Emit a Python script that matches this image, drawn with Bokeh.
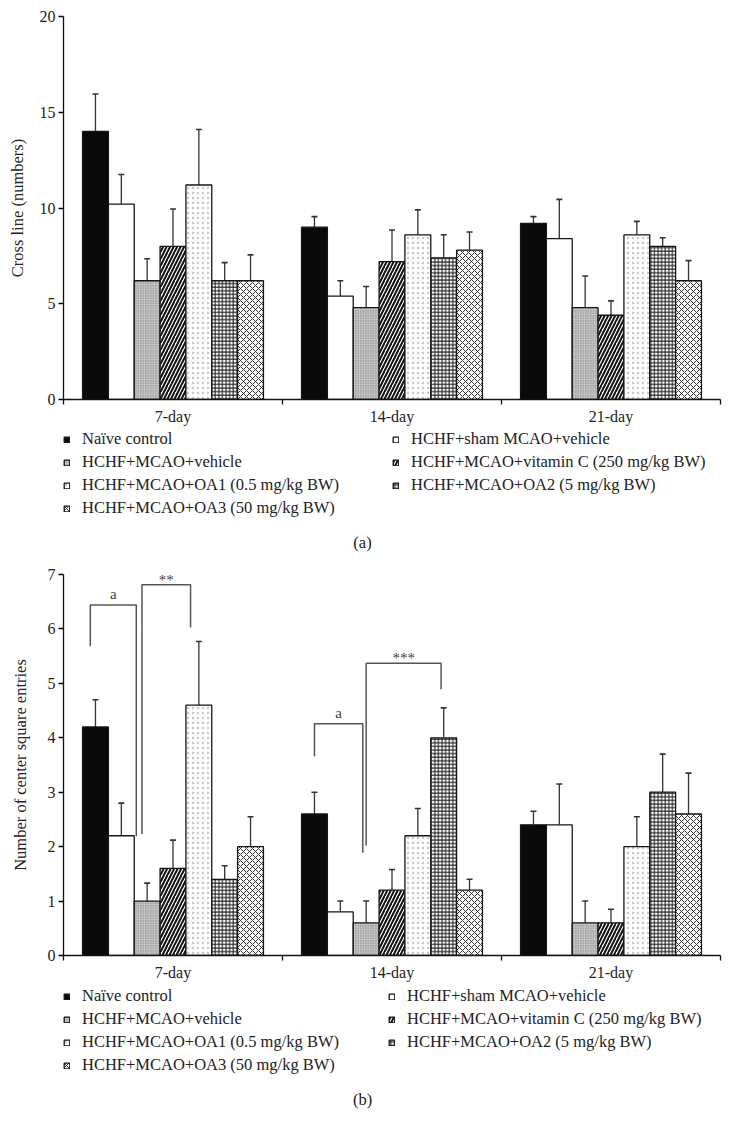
import numpy as np
from bokeh.plotting import figure
from bokeh.models import (Range1d, FixedTicker, ColumnDataSource, Legend, LegendItem,
                          Whisker, TeeHead, Label, LabelSet)
from bokeh.layouts import column
from bokeh.embed import file_html
from bokeh.resources import INLINE

# ---------------- data ----------------
days = ["7-day", "14-day", "21-day"]
groups = ["Naïve control",
          "HCHF+sham MCAO+vehicle",
          "HCHF+MCAO+vehicle",
          "HCHF+MCAO+vitamin C (250 mg/kg BW)",
          "HCHF+MCAO+OA1 (0.5 mg/kg BW)",
          "HCHF+MCAO+OA2 (5 mg/kg BW)",
          "HCHF+MCAO+OA3 (50 mg/kg BW)"]

# Panel (a): Cross line (numbers); one list per day, groups in the order above
cross_7 = [14.0, 10.2, 6.2, 8.0, 11.2, 6.2, 6.2]
cross_7_sem = [1.95, 1.55, 1.15, 1.95, 2.9, 0.95, 1.35]
cross_14 = [9.0, 5.4, 4.8, 7.2, 8.6, 7.4, 7.8]
cross_14_sem = [0.55, 0.8, 1.1, 1.65, 1.3, 1.2, 0.95]
cross_21 = [9.2, 8.4, 4.8, 4.4, 8.6, 8.0, 6.2]
cross_21_sem = [0.35, 2.05, 1.65, 0.75, 0.7, 0.45, 1.05]

# Panel (b): Number of center square entries
center_7 = [4.2, 2.2, 1.0, 1.6, 4.6, 1.4, 2.0]
center_7_sem = [0.5, 0.6, 0.33, 0.52, 1.17, 0.25, 0.55]
center_14 = [2.6, 0.8, 0.6, 1.2, 2.2, 4.0, 1.2]
center_14_sem = [0.4, 0.2, 0.4, 0.38, 0.5, 0.55, 0.2]
center_21 = [2.4, 2.4, 0.6, 0.6, 2.0, 3.0, 2.6]
center_21_sem = [0.25, 0.75, 0.4, 0.25, 0.55, 0.7, 0.75]

cross_ticks = [0, 5, 10, 15, 20]
center_ticks = [0, 1, 2, 3, 4, 5, 6, 7]

# significance brackets of panel (b): day index, bar slots of the legs, heights, label
bracket_day = [0, 0, 1, 1]
bracket_left_slot = [-0.2, 1.8, 0.0, 2.0]
bracket_right_slot = [1.58, 3.68, 1.87, 4.9]
bracket_left_y = [5.68, 2.23, 3.66, 2.02]
bracket_top_y = [6.44, 6.81, 4.26, 5.37]
bracket_right_y = [2.19, 6.03, 1.89, 4.89]
bracket_label = ["a", "**", "a", "***"]

# ---------------- styles ----------------
FONT = "Liberation Serif"
BAR_W = 0.118
label_gap = [6, 0, 6, 0]          # px between bracket line and label baseline
styles = [
    dict(fill_color="#0a0a0a"),
    dict(fill_color="white"),
    dict(fill_color="#a6a6a6", hatch_pattern="cross", hatch_scale=2.5,
         hatch_color="#d6d6d6", hatch_weight=0.6),
    dict(fill_color="white", hatch_pattern="right_diagonal_line", hatch_scale=7,
         hatch_color="#111111", hatch_weight=2.0),
    dict(fill_color="white", hatch_pattern="dot", hatch_scale=5,
         hatch_color="#777777", hatch_weight=0.8, hatch_alpha=0.4),
    dict(fill_color="white", hatch_pattern="cross", hatch_scale=3.6,
         hatch_color="#1a1a1a", hatch_weight=1.0),
    dict(fill_color="white", hatch_pattern="diagonal_cross", hatch_scale=6,
         hatch_color="#333333", hatch_weight=1.0),
]
BAR_LINE = dict(line_color="#151515", line_width=1.3)
FRAME_L, FRAME_W = 63, 657


def make_panel(means, sems, ylabel, ymax, ticks, frame_h, b_top, label_standoff):
    p = figure(frame_width=FRAME_W, frame_height=frame_h,
               x_range=Range1d(-0.5, 2.5), y_range=Range1d(0, ymax),
               output_backend="svg", toolbar_location=None,
               min_border_left=FRAME_L, min_border_right=2,
               min_border_top=b_top, min_border_bottom=30)
    p.outline_line_color = None
    p.xgrid.visible = False
    p.ygrid.visible = False

    for gi, name in enumerate(groups):
        xs = [d + (gi - 3) * BAR_W for d in range(len(days))]
        tops = [means[d][gi] for d in range(len(days))]
        ups = [means[d][gi] + sems[d][gi] for d in range(len(days))]
        src = ColumnDataSource(dict(x=xs, top=tops, up=ups))
        p.vbar(x="x", top="top", bottom=0, width=BAR_W, source=src,
               **BAR_LINE, **styles[gi])
        w = Whisker(source=src, base="x", lower="top", upper="up", dimension="height",
                    line_color="#333333", line_width=1.3, lower_head=None,
                    upper_head=TeeHead(size=6, line_color="#333333", line_width=1.6))
        p.add_layout(w)

    ya = p.yaxis[0]
    ya.ticker = FixedTicker(ticks=ticks)
    ya.axis_label = ylabel
    ya.axis_label_text_font = FONT
    ya.axis_label_text_font_style = "normal"
    ya.axis_label_text_font_size = "16.5px"
    ya.axis_label_text_color = "#222222"
    ya.axis_label_standoff = label_standoff
    ya.major_label_text_font = FONT
    ya.major_label_text_font_size = "16px"
    ya.major_label_text_color = "#222222"
    ya.major_tick_out = 5
    ya.major_tick_in = 0
    ya.minor_tick_out = 0
    ya.minor_tick_in = 0
    ya.axis_line_color = "#111111"
    ya.axis_line_width = 1.3
    ya.major_tick_line_width = 1.3
    ya.major_label_standoff = 3

    xa = p.xaxis[0]
    xa.ticker = FixedTicker(ticks=[0, 1, 2], minor_ticks=[-0.5, 0.5, 1.5, 2.5])
    xa.major_label_overrides = {i: d for i, d in enumerate(days)}
    xa.major_label_text_font = FONT
    xa.major_label_text_font_size = "16px"
    xa.major_label_text_color = "#222222"
    xa.major_tick_out = 0
    xa.major_tick_in = 0
    xa.minor_tick_out = 5
    xa.minor_tick_in = 0
    xa.minor_tick_line_color = "#111111"
    xa.minor_tick_line_width = 1.3
    xa.axis_line_color = "#111111"
    xa.axis_line_width = 1.3
    xa.major_label_standoff = 3
    return p


def legend_block(height, col2_x, top_rel, caption, caption_y):
    lf = figure(frame_width=FRAME_W, frame_height=height,
                x_range=Range1d(FRAME_L, FRAME_L + FRAME_W), y_range=Range1d(0, height),
                x_axis_type=None, y_axis_type=None,
                min_border_left=FRAME_L, min_border_right=2,
                min_border_top=0, min_border_bottom=0,
                output_backend="svg", toolbar_location=None)
    lf.outline_line_color = None
    rs = []
    for gi in range(len(groups)):
        # legend-key renderers: one NaN row each, nothing is drawn in the frame
        rs.append(lf.vbar(x=np.array([np.nan]), top=np.array([np.nan]), width=1,
                          **BAR_LINE, **styles[gi]))
    items = [LegendItem(label=groups[i], renderers=[rs[i]]) for i in range(len(groups))]
    lab_h, sp = 20, 3
    for idx, xpos in (((0, 2, 4, 6), 0), ((1, 3, 5), col2_x)):
        its = [items[i] for i in idx]
        h = len(its) * lab_h + (len(its) - 1) * sp
        lg = Legend(items=its, location=(xpos, height - top_rel - h), orientation="vertical",
                    margin=0, padding=0, spacing=sp, label_standoff=12,
                    glyph_width=7, glyph_height=7, label_height=lab_h,
                    label_text_font=FONT, label_text_font_size="16.5px",
                    label_text_color="#222222", border_line_color=None,
                    background_fill_alpha=0)
        lf.add_layout(lg)
    lf.add_layout(Label(x=362, y=caption_y, text=caption, text_align="center",
                        text_baseline="middle", text_font=FONT, text_font_size="16.5px",
                        text_color="#222222"))
    return lf


pa = make_panel([cross_7, cross_14, cross_21], [cross_7_sem, cross_14_sem, cross_21_sem],
                "Cross line (numbers)", 20, cross_ticks, 383, 16, 10)
la = legend_block(131, 329, 0, "(a)", 18)

pb = make_panel([center_7, center_14, center_21], [center_7_sem, center_14_sem, center_21_sem],
                "Number of center square entries", 7, center_ticks, 381, 14, 15)
lb = legend_block(135, 325, 1, "(b)", 21)

# brackets on panel (b)
bx, by, lx, ly = [], [], [], []
for k in range(len(bracket_label)):
    xl = bracket_day[k] + (bracket_left_slot[k] - 3) * BAR_W
    xr = bracket_day[k] + (bracket_right_slot[k] - 3) * BAR_W
    bx.append([xl, xl, xr, xr])
    by.append([bracket_left_y[k], bracket_top_y[k], bracket_top_y[k], bracket_right_y[k]])
    lx.append((xl + xr) / 2)
    ly.append(bracket_top_y[k])
pb.multi_line(xs=bx, ys=by, line_color="#555555", line_width=1.5)
lsrc = ColumnDataSource(dict(x=lx, y=ly, text=bracket_label, off=label_gap))
pb.add_layout(LabelSet(x="x", y="y", text="text", source=lsrc, text_align="center",
                       text_baseline="alphabetic", y_offset="off", text_font=FONT,
                       text_font_size="15px", text_color="#444444"))

layout = column(pa, la, pb, lb, spacing=0)
open("out.html", "w").write(file_html(layout, INLINE))
